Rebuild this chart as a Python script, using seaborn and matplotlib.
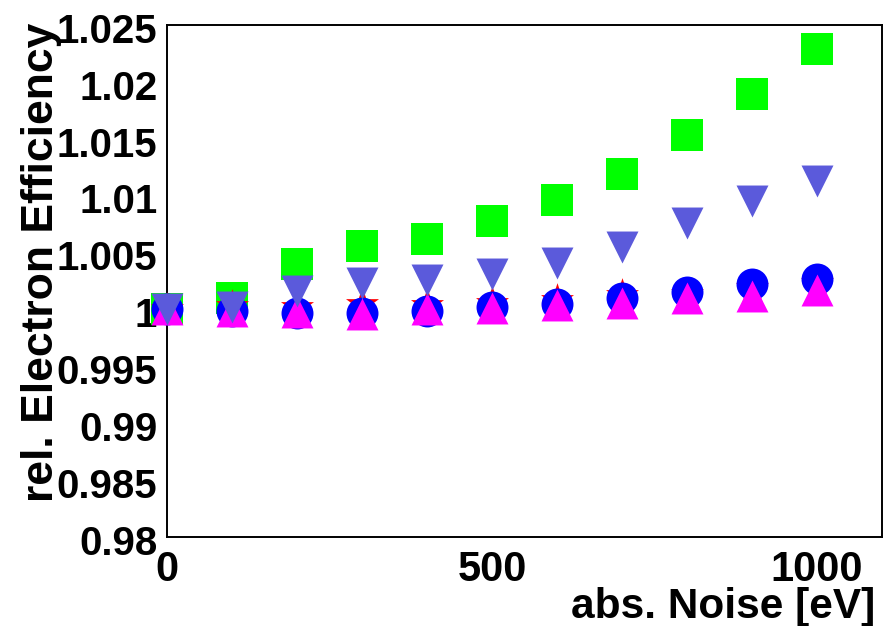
import matplotlib
matplotlib.use("Agg")
import matplotlib.pyplot as plt
from matplotlib.ticker import MultipleLocator, FixedLocator, FuncFormatter
from matplotlib.transforms import ScaledTranslation
import pandas as pd
import seaborn as sns

# Absolute noise levels [eV]
noise = [0, 100, 200, 300, 400, 500, 600, 700, 800, 900, 1000]

# Relative electron efficiency for each configuration
eff_square = [1.0, 1.0010, 1.0040, 1.0056, 1.0062, 1.0078, 1.0096, 1.0119, 1.0153, 1.0189, 1.0229]
eff_star = [1.0, 1.0003, 1.0002, 1.0005, 1.0004, 1.0006, 1.0008, 1.0013, 1.0014, 1.0019, 1.0023]
eff_circle = [1.0, 0.9999, 0.9997, 0.9997, 0.9999, 1.0002, 1.0005, 1.0010, 1.0015, 1.0022, 1.0027]
eff_tri_up = [1.0, 0.9999, 0.9998, 0.9996, 1.0000, 1.0001, 1.0004, 1.0006, 1.0010, 1.0012, 1.0017]
eff_tri_down = [1.0, 1.0002, 1.0016, 1.0023, 1.0026, 1.0031, 1.0041, 1.0055, 1.0076, 1.0095, 1.0113]

series_names = ["square", "star", "circle", "tri_up", "tri_down"]
series_values = [eff_square, eff_star, eff_circle, eff_tri_up, eff_tri_down]
series_colors = ["#00ff00", "#ff0000", "#0000ff", "#ff00ff", "#5b5adb"]
series_markers = ["s", "*", "o", "^", "v"]

x_ticks = [0, 500, 1000]

sns.set_theme(style="white")
plt.rcParams["font.family"] = ["Liberation Sans", "DejaVu Sans"]

# long-format table of all series
df = pd.concat(
    [pd.DataFrame({"noise": noise, "eff": vals, "series": name})
     for name, vals in zip(series_names, series_values)],
    ignore_index=True,
)

fig = plt.figure(figsize=(8.87, 6.26), dpi=100)
ax = fig.add_axes([0.18828, 0.14217, 0.8061, 0.81789])

sizes = {"square": 23, "star": 25, "circle": 23, "tri_up": 23, "tri_down": 23}
for name, color, marker in zip(series_names, series_colors, series_markers):
    sub = df[df["series"] == name]
    sns.scatterplot(data=sub, x="noise", y="eff", ax=ax, color=color,
                    marker=marker, s=sizes[name] ** 2, linewidth=0,
                    clip_on=False, legend=False, zorder=3)

ax.set_xlim(0, 1100)
ax.set_ylim(0.98, 1.025)

ax.xaxis.set_major_locator(FixedLocator(x_ticks))
ax.xaxis.set_minor_locator(MultipleLocator(100))
ax.yaxis.set_major_locator(MultipleLocator(0.005))
ax.yaxis.set_minor_locator(MultipleLocator(0.001))
ax.yaxis.set_major_formatter(FuncFormatter(lambda v, p: f"{v:g}"))

ax.tick_params(axis="both", which="both", direction="in", color="black",
               width=1.0, top=False, right=False)
ax.tick_params(axis="y", which="major", length=15, pad=7)
ax.tick_params(axis="y", which="minor", length=8)
ax.tick_params(axis="x", which="major", length=15, pad=9)
ax.tick_params(axis="x", which="minor", length=7.5)

# y tick labels sit slightly below their ticks
shift_down = ScaledTranslation(0, -2 / 72, fig.dpi_scale_trans)
for t in ax.yaxis.get_major_ticks():
    t.label1.set_fontsize(29)
    t.label1.set_fontweight("bold")
    t.label1.set_color("black")
    t.label1.set_transform(t.label1.get_transform() + shift_down)
for t in ax.xaxis.get_major_ticks():
    t.label1.set_fontsize(30)
    t.label1.set_fontweight("bold")
    t.label1.set_color("black")

for sp in ax.spines.values():
    sp.set_visible(True)
    sp.set_color("black")
    sp.set_linewidth(1.4)

ax.set_xlabel("abs. Noise [eV]", fontsize=30.5, fontweight="bold", color="black", loc="right")
ax.xaxis.set_label_coords(0.99, -0.097)
ax.set_ylabel("rel. Electron Efficiency", fontsize=32, fontweight="bold", color="black")
ax.yaxis.set_label_coords(-0.1464, 0.537)

fig.savefig("out.png", dpi=100)
